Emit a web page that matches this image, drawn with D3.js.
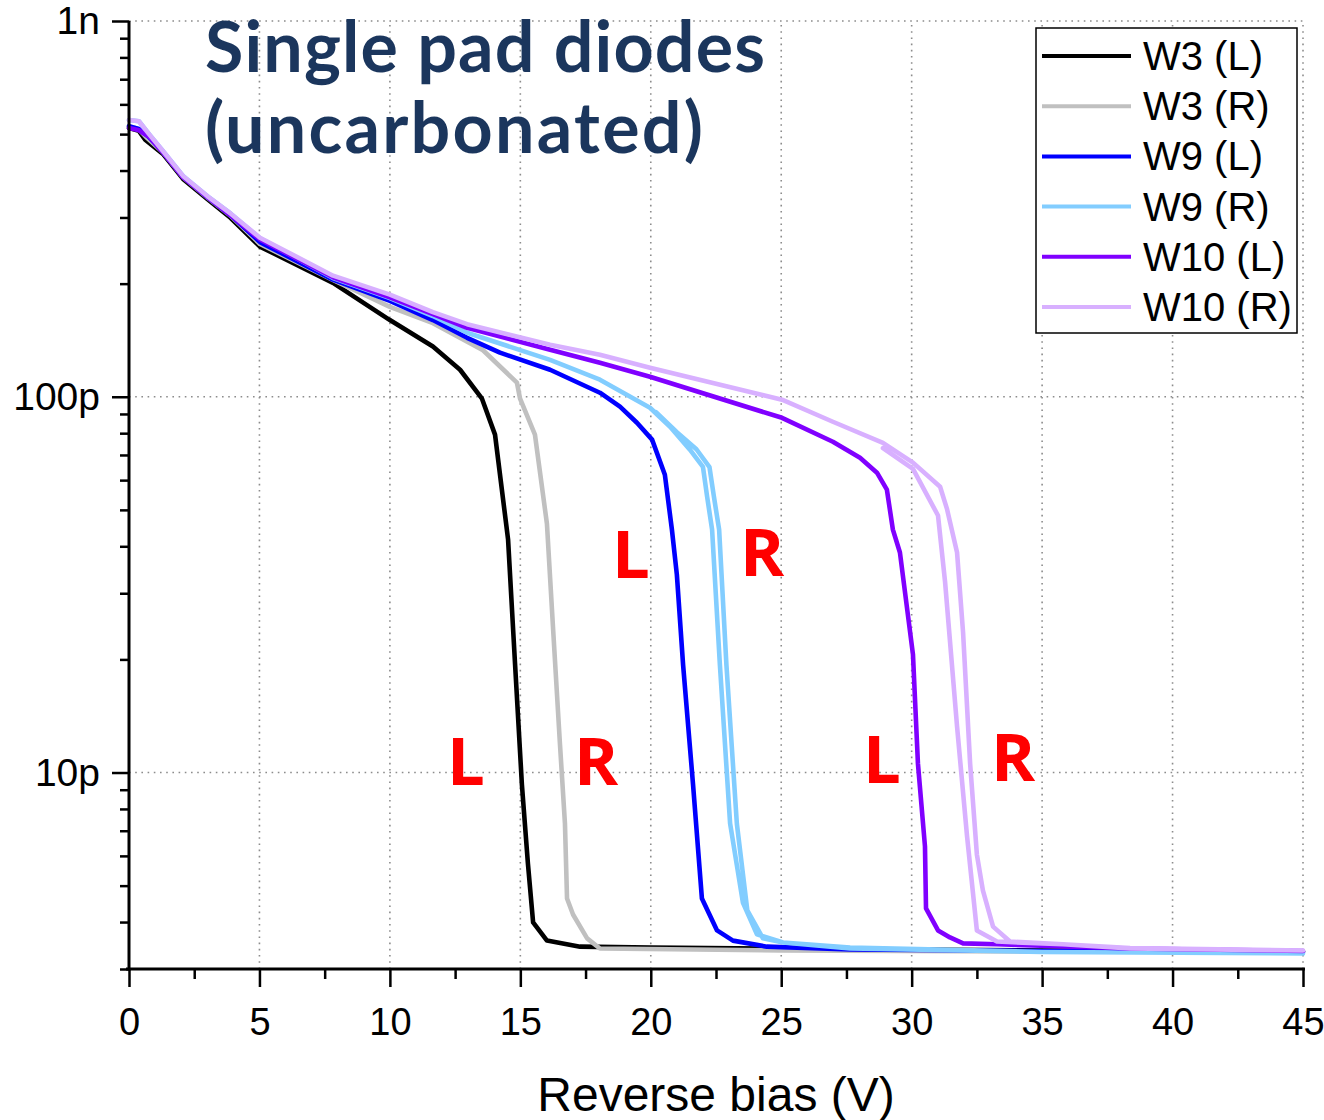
<!DOCTYPE html>
<html><head><meta charset="utf-8">
<script src="https://cdn.jsdelivr.net/npm/d3@7"></script>
<style>body{margin:0;background:#fff}</style>
</head><body>
<svg id="c" width="1324" height="1120"></svg>
<script>
// ---- data (V, capacitance in pF) ----
const seriesNames = ["W3 (L)", "W3 (R)", "W9 (L)", "W9 (R)", "W10 (L)", "W10 (R)"];
const seriesColors = ["#000000", "#c0c0c0", "#0000ff", "#82cdff", "#8000ff", "#d8b0ff"];

const w3L = [[0,519],[0.38,510],[0.62,483],[1.3,443],[2.07,380],[3.0,336],[3.9,299],[5.02,251],[7.82,201],[10,160],[11.65,136],[12.69,118],[13.53,98.8],[14.03,79.3],[14.53,41.7],[14.8,19.3],[15.06,9.29],[15.29,5.73],[15.49,3.99],[16.02,3.57],[17.29,3.44],[20,3.42],[25,3.40],[30,3.38],[35,3.36],[40,3.35],[45,3.34]];
const w3R = [[0,525],[0.38,515],[0.7,488],[1.3,447],[2.07,384],[3.0,339],[3.9,303],[5.02,255],[7.82,204.7],[10,173.5],[11.65,157],[13.57,133],[14.87,109],[14.99,98.8],[15.56,79.3],[16.02,45.9],[16.25,24.5],[16.52,11.87],[16.71,7.32],[16.79,4.62],[17.02,4.19],[17.56,3.62],[18.05,3.40],[25,3.36],[35,3.34],[45,3.33]];
const w9L = [[0,525],[0.38,516],[0.75,492],[1.3,448],[2.07,385],[3.0,340],[3.9,304],[5.02,258],[7.82,205],[10,180],[11.65,160],[12.96,143.5],[14.22,131],[16.14,118],[18.05,102.5],[18.82,94.1],[19.47,85.3],[20.05,76.9],[20.54,62.0],[20.81,44.3],[21.0,33.6],[21.24,19.3],[21.62,9.29],[21.96,4.62],[22.54,3.80],[23.15,3.57],[24.45,3.44],[27.64,3.38],[35,3.35],[45,3.33]];
const w9R = [[0,545],[0.38,541],[0.8,497],[1.3,451],[2.07,387],[3.0,342],[3.9,307],[5.02,264],[7.82,207],[10,183],[11.65,164],[12.96,148],[16.14,125.4],[18.05,111],[19.97,93.5],[20.74,83.2],[21.5,72.3],[22.0,65.1],[22.16,54.2],[22.35,44.3],[22.65,19.3],[23.04,7.32],[23.53,4.51],[24.07,3.71],[25.07,3.53],[27.64,3.40],[35,3.33],[45,3.30],
  [35,3.33],[27.64,3.42],[25.07,3.53],[24.3,3.62],[23.7,4.3],[23.3,7.3],[22.9,19.3],[22.62,44.3],[22.42,54.2],[22.25,65],[21.75,72.5],[21.0,80.5],[20.2,91]];
const w10L = [[0,519],[0.38,512],[0.8,490],[1.3,447],[2.07,384],[3.0,340],[3.9,304],[5.02,262],[7.82,208],[10,184],[11.65,166],[12.96,152.6],[16.14,133.4],[18.05,123.1],[19.97,113],[25.03,87.9],[26.98,75.9],[28.02,68.8],[28.67,62.8],[29.05,56.6],[29.28,44.3],[29.55,38.5],[30.05,20.6],[30.24,10.57],[30.51,6.36],[30.55,4.35],[31.01,3.80],[31.47,3.64],[31.97,3.51],[33.27,3.49],[38.37,3.40],[45,3.35]];
const w10R = [[0,545],[0.38,541],[0.8,497],[1.3,451],[2.07,387],[3.0,342],[3.9,307],[5.02,265],[7.82,210],[10,187],[11.65,168],[12.96,156],[16.14,137.5],[18.05,129.3],[19.97,119.4],[25.03,98.2],[26.98,85.8],[28.9,75.4],[30.05,66.8],[31.09,57.6],[31.35,50.4],[31.74,38.5],[31.97,23.6],[32.24,10.57],[32.5,6.05],[32.73,4.86],[33.12,3.89],[33.77,3.55],[35.8,3.49],[38.37,3.40],[45,3.36],
  [38.37,3.41],[35.8,3.49],[33.27,3.55],[32.5,3.80],[32.12,6.80],[31.74,13.26],[31.28,32.2],[31.01,48.3],[30.05,64.3],[28.9,73]];
const seriesData = [w3L, w3R, w9L, w9R, w10L, w10R];

const xTickValues = [0,5,10,15,20,25,30,35,40,45];
const xMinorTickValues = [2.5,7.5,12.5,17.5,22.5,27.5,32.5,37.5,42.5];
const yTickValues = [1000,100,10];
const yTickLabels = ["1n","100p","10p"];
const annotations = [
  {t:"L", v:12.19, c:9.29}, {t:"R", v:17.06, c:9.29},
  {t:"L", v:18.51, c:33.0}, {t:"R", v:23.42, c:33.4},
  {t:"L", v:28.13, c:9.40}, {t:"R", v:33.04, c:9.52}
];
const titleLines = ["Single pad diodes", "(uncarbonated)"];
const xAxisTitle = "Reverse bias (V)";

// ---- layout ----
const W = 1324, H = 1120;
const m = {left:129, top:21, right:21, bottom:151};
const svg = d3.select("#c");
const x = d3.scaleLinear().domain([0,45]).range([m.left, W - m.right]);
const y = d3.scaleLog().domain([3,1000]).range([H - m.bottom, m.top]);

// grid
const grid = svg.append("g").attr("stroke","#8c8c8c").attr("stroke-width",1.6).attr("stroke-dasharray","1.6,4.6");
grid.selectAll("line.gx").data(xTickValues.filter(d=>d>0)).join("line")
  .attr("x1",d=>x(d)).attr("x2",d=>x(d)).attr("y1",y(3)).attr("y2",y(1000));
grid.selectAll("line.gy").data(yTickValues).join("line")
  .attr("x1",x(0)).attr("x2",x(45)).attr("y1",d=>y(d)).attr("y2",d=>y(d));

// curves
const line = d3.line().x(d=>x(d[0])).y(d=>y(d[1]));
const curves = svg.append("g").attr("fill","none").attr("stroke-width",4.6).attr("stroke-linejoin","round").attr("stroke-linecap","round");
curves.selectAll("path").data(seriesData).join("path")
  .attr("d", line).attr("stroke",(d,i)=>seriesColors[i]);

// axes
const fontAxis = "'Liberation Sans', Arial, sans-serif";
const yMinor = [];
[1,10,100].forEach(dec => { for (let k=2;k<=9;k++){ const v=k*dec; if (v>=3 && v<=1000) yMinor.push(v);} });

const gx = svg.append("g").attr("transform",`translate(0,${y(3)})`)
  .call(d3.axisBottom(x).tickValues(xTickValues).tickSize(18).tickSizeOuter(0).tickPadding(21).tickFormat(d=>d));
const gxm = svg.append("g").attr("transform",`translate(0,${y(3)})`)
  .call(d3.axisBottom(x).tickValues(xMinorTickValues).tickSize(10).tickSizeOuter(0).tickFormat(""));
const gy = svg.append("g").attr("transform",`translate(${x(0)},0)`)
  .call(d3.axisLeft(y).tickValues(yTickValues).tickSize(17).tickSizeOuter(0).tickPadding(12).tickFormat((d,i)=>yTickLabels[i]));
const gym = svg.append("g").attr("transform",`translate(${x(0)},0)`)
  .call(d3.axisLeft(y).tickValues(yMinor).tickSize(9).tickSizeOuter(0).tickFormat(""));
[gx,gxm,gy,gym].forEach(g=>{
  g.selectAll(".tick line").attr("stroke","#000").attr("stroke-width",2.5);
  g.select(".domain").attr("stroke","#000").attr("stroke-width",3);
  g.selectAll("text").attr("fill","#000").style("font-family",fontAxis).style("font-size","38px");
});
gy.selectAll("text").style("font-size","39px");
gxm.select(".domain").remove(); gym.select(".domain").remove();
gx.select(".domain").attr("d",`M${x(0)-3},0H${x(45)+2}`);
gy.select(".domain").attr("d",`M0,${y(1000)}V${y(3)+1.5}`);

// axis title
svg.append("text").attr("x",(x(0)+x(45))/2).attr("y",1111).attr("text-anchor","middle")
  .style("font-family",fontAxis).style("font-size","48px").text(xAxisTitle);

// title
const tg = svg.append("g").style("font-family","Lato, 'Open Sans', sans-serif").style("font-weight","bold")
  .style("font-size","70px").attr("fill","#1b365d");
const tl1 = tg.append("text").attr("x",205).attr("y",72).text(titleLines[0]);
const tl2 = tg.append("text").attr("x",205).attr("y",153).text(titleLines[1]);
// adjust letter spacing to match target widths
const fit = (sel, target) => {
  const w = sel.node().getComputedTextLength();
  const n = sel.text().length;
  sel.style("letter-spacing", ((target - w) / (n - 1)) + "px");
};
fit(tl1, 560);
fit(tl2, 498);

// annotations
svg.append("g").selectAll("text").data(annotations).join("text")
  .attr("x",d=>x(d.v)).attr("y",d=>y(d.c)).text(d=>d.t)
  .attr("fill","#ff0000").style("font-family","'Open Sans', sans-serif").style("font-weight","bold").style("font-size","67px");

// legend
const lg = svg.append("g");
lg.append("rect").attr("x",1036).attr("y",28).attr("width",261).attr("height",305)
  .attr("fill","#fff").attr("stroke","#000").attr("stroke-width",1.5);
const rows = lg.selectAll("g.row").data(seriesNames).join("g").attr("transform",(d,i)=>`translate(0,${56 + i*50.2})`);
rows.append("line").attr("x1",1042).attr("x2",1131).attr("y1",0).attr("y2",0)
  .attr("stroke",(d,i)=>seriesColors[i]).attr("stroke-width",4);
rows.append("text").attr("x",1143).attr("y",14).text(d=>d)
  .style("font-family",fontAxis).style("font-size","40px").attr("fill","#000");
</script>
</body></html>
